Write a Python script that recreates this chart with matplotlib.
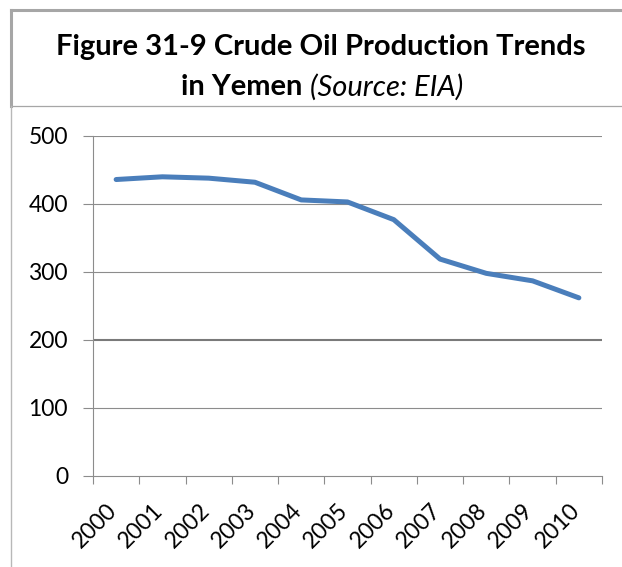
import matplotlib
matplotlib.use("Agg")
import matplotlib.pyplot as plt
from matplotlib.lines import Line2D
import matplotlib.transforms as mtransforms
import numpy as np

years = ["2000", "2001", "2002", "2003", "2004", "2005",
         "2006", "2007", "2008", "2009", "2010"]
production = [436, 440, 438, 432, 406, 403, 377, 319, 298, 287, 262]
y_ticks = [0, 100, 200, 300, 400, 500]

W, H = 622, 567
DPI = 100
plt.rcParams['font.family'] = ['Lato', 'DejaVu Sans']

fig = plt.figure(figsize=(W / DPI, H / DPI), dpi=DPI)
fig.patch.set_facecolor('white')

def fx(px):
    return px / W

def fy(py):
    return 1 - py / H

# Title box borders
fig.add_artist(Line2D([fx(11), fx(11)], [fy(10), fy(106)], color='#a6a6a6', lw=2.2, transform=fig.transFigure))
fig.add_artist(Line2D([fx(11), fx(622)], [fy(10), fy(10)], color='#a6a6a6', lw=2.2, transform=fig.transFigure))
fig.add_artist(Line2D([fx(11), fx(622)], [fy(106), fy(106)], color='#a6a6a6', lw=0.9, transform=fig.transFigure))
fig.add_artist(Line2D([fx(11), fx(11)], [fy(106), fy(567)], color='#b8b8b8', lw=1.0, transform=fig.transFigure))

fig.text(fx(321), fy(47), "Figure 31-9 Crude Oil Production Trends",
         ha='center', va='center', fontsize=21, fontweight='bold', color='black')
fig.text(fx(302), fy(87), "in Yemen", ha='right', va='center', fontsize=21,
         fontweight='bold', color='black')
fig.text(fx(310), fy(87), "(Source: EIA)", ha='left', va='center', fontsize=21,
         fontstyle='italic', color='black')

ax = fig.add_axes([fx(93), 1 - 476 / H, (602 - 93) / W, (476 - 136) / H])
x = np.arange(len(years))
ax.set_xlim(-0.5, len(years) - 0.5)
ax.set_ylim(0, 500)

for v in y_ticks[1:]:
    ax.axhline(v, color='#8c8c8c' if v != 200 else '#7a7a7a',
               lw=0.8 if v != 200 else 1.5, zorder=1)

ax.plot(x, production, color='#4a7ebb', lw=3.6, solid_capstyle='round',
        solid_joinstyle='round', zorder=3)

for s in ['top', 'right']:
    ax.spines[s].set_visible(False)
for s in ['left', 'bottom']:
    ax.spines[s].set_color('#8c8c8c')
    ax.spines[s].set_linewidth(0.8)

ax.set_yticks(y_ticks)
ax.set_yticklabels([str(v) for v in y_ticks], fontsize=16.5, color='black')
ax.tick_params(axis='y', direction='out', length=7, width=0.8, color='#8c8c8c', pad=11)

ax.set_xticks(x)
ax.set_xticklabels(years, rotation=45, ha='right', rotation_mode='anchor',
                   fontsize=16.5, color='black')
ax.tick_params(axis='x', which='major', length=0, pad=17)
ax.set_xticks(np.arange(-0.5, len(years)), minor=True)
ax.tick_params(axis='x', which='minor', direction='out', length=6, width=0.8, color='#8c8c8c')

shift = mtransforms.ScaledTranslation(-10 / DPI, 0, fig.dpi_scale_trans)
for lab in ax.get_xticklabels():
    lab.set_transform(lab.get_transform() + shift)

fig.savefig("out.png", dpi=DPI, facecolor='white')
